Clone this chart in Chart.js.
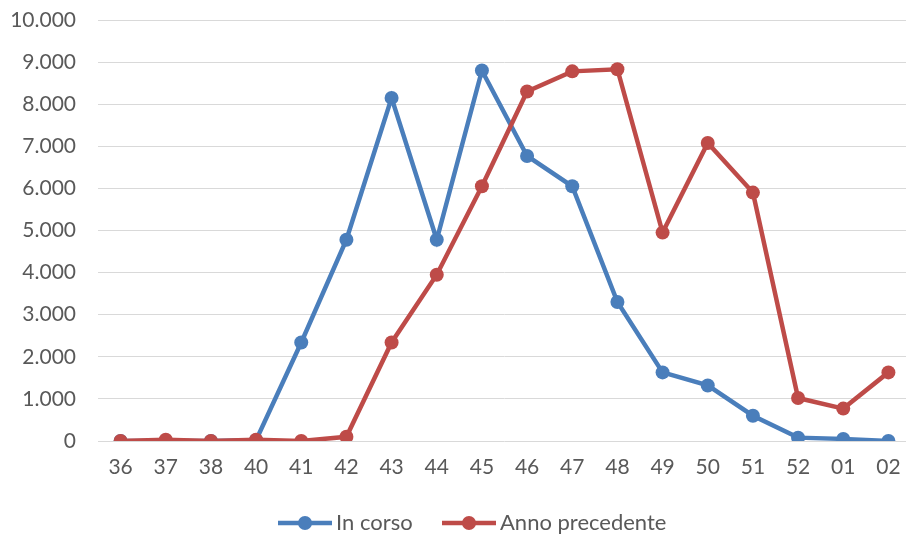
<!DOCTYPE html>
<html>
<head>
<meta charset="utf-8">
<script src="https://cdn.jsdelivr.net/npm/chart.js@4/dist/chart.umd.min.js"></script>
<style>
html,body{margin:0;padding:0;background:#fff;overflow:hidden;width:906px;height:537px;}
#wrap{width:918px;height:537px;}
canvas{display:block;}
</style>
</head>
<body>
<div id="wrap"><canvas id="c" width="918" height="537"></canvas></div>
<script>
const weeks = ["36","37","38","40","41","42","43","44","45","46","47","48","49","50","51","52","01","02"];
const inCorso = [0,0,0,20,2340,4780,8150,4780,8800,6770,6050,3300,1630,1320,600,80,50,0];
const annoPrecedente = [0,30,0,30,0,100,2340,3950,6050,8300,8780,8830,4950,7080,5900,1020,770,1630];
const seriesNames = ["In corso","Anno precedente"];
const colors = ["#4A7EBB","#BE4B48"];
const FONT = "Lato, 'Open Sans', sans-serif";

const legendPlugin = {
  id: 'customLegend',
  afterDraw(chart) {
    const ctx = chart.ctx;
    const y = 523;
    const items = [{x:278, label:seriesNames[0], color:colors[0]},{x:442, label:seriesNames[1], color:colors[1]}];
    ctx.save();
    items.forEach(it => {
      ctx.strokeStyle = it.color;
      ctx.lineWidth = 4.5;
      ctx.beginPath(); ctx.moveTo(it.x, y); ctx.lineTo(it.x+54, y); ctx.stroke();
      ctx.fillStyle = it.color;
      ctx.beginPath(); ctx.arc(it.x+27, y, 7, 0, Math.PI*2); ctx.fill();
      ctx.fillStyle = '#595959';
      ctx.font = '22px ' + FONT;
      ctx.textBaseline = 'middle';
      ctx.textAlign = 'left';
      ctx.fillText(it.label, it.x+58, y);
    });
    ctx.restore();
  }
};

new Chart(document.getElementById('c'), {
  type: 'line',
  data: {
    labels: weeks,
    datasets: [
      {label: seriesNames[0], data: inCorso, borderColor: colors[0], backgroundColor: colors[0], borderWidth: 4.5, pointRadius: 7, pointHoverRadius: 7, pointBorderWidth: 0, tension: 0, order: 2},
      {label: seriesNames[1], data: annoPrecedente, borderColor: colors[1], backgroundColor: colors[1], borderWidth: 4.5, pointRadius: 7, pointHoverRadius: 7, pointBorderWidth: 0, tension: 0, order: 1}
    ]
  },
  options: {
    responsive: false,
    animation: false,
    events: [],
    layout: {padding: {top: 20, right: 2, bottom: 60, left: 0}},
    plugins: {legend: {display: false}, tooltip: {enabled: false}},
    scales: {
      x: {
        offset: true,
        grid: {display: false, drawTicks: false},
        border: {display: false},
        ticks: {color: '#595959', font: {family: FONT, size: 21}, padding: 14, maxRotation: 0, autoSkip: false},
        afterFit(s) { s.height = 36; s.paddingLeft = 0; s.paddingRight = 0; }
      },
      y: {
        min: 0, max: 10000,
        grid: {color: '#D9D9D9', lineWidth: 1, drawTicks: false},
        border: {display: false},
        ticks: {
          stepSize: 1000, color: '#595959', font: {family: FONT, size: 21}, padding: 22,
          callback: v => v.toLocaleString('de-DE')
        },
        afterFit(s) { s.width = 98; s.paddingTop = 0; s.paddingBottom = 0; }
      }
    }
  },
  plugins: [legendPlugin]
});
</script>
</body>
</html>
